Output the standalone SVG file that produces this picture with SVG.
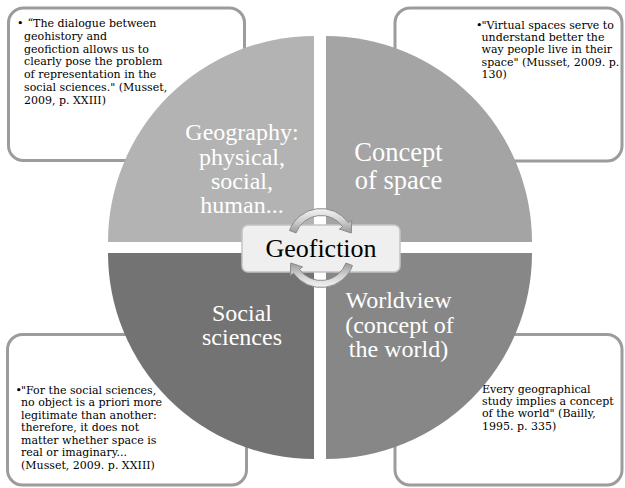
<svg xmlns="http://www.w3.org/2000/svg" width="625" height="488" viewBox="0 0 625 488">
<style>
.box{fill:#ffffff;stroke:#9c9c9c;stroke-width:3}
.bt{font-family:"DejaVu Serif","Liberation Serif",serif;font-size:11px;fill:#000}
.ql{font-family:"Liberation Serif","Times New Roman",serif;fill:#ffffff;text-anchor:middle}
.arr{stroke:#8a8a8a;stroke-width:1}
</style>
<defs>
<linearGradient id="gTop" x1="0" y1="0" x2="0" y2="1">
<stop offset="0" stop-color="#f4f4f4"/>
<stop offset="0.5" stop-color="#d0d0d0"/>
<stop offset="1" stop-color="#9a9a9a"/>
</linearGradient>
<linearGradient id="gBot" x1="0" y1="1" x2="0" y2="0">
<stop offset="0" stop-color="#f4f4f4"/>
<stop offset="0.5" stop-color="#d0d0d0"/>
<stop offset="1" stop-color="#9a9a9a"/>
</linearGradient>
</defs>

<g id="box-tl">
<rect class="box" x="8.5" y="8" width="236" height="152.5" rx="15"/>
<text class="bt"><tspan x="17" y="27.3">•</tspan><tspan x="24" y="27.3"> “The dialogue between</tspan><tspan x="24" y="40">geohistory and</tspan><tspan x="24" y="52.7">geofiction allows us to</tspan><tspan x="24" y="65.4">clearly pose the problem</tspan><tspan x="24" y="78.1">of representation in the</tspan><tspan x="24" y="90.8">social sciences." (Musset,</tspan><tspan x="24" y="103.5">2009, p. XXIII)</tspan></text>
</g>

<g id="box-tr">
<rect class="box" x="395" y="8" width="227" height="153" rx="15"/>
<text class="bt"><tspan x="476" y="28.5">•</tspan><tspan x="481.5" y="28.5">"Virtual spaces serve to</tspan><tspan x="481.5" y="40.9">understand better the</tspan><tspan x="481.5" y="53.3">way people live in their</tspan><tspan x="481.5" y="65.7">space" (Musset, 2009. p.</tspan><tspan x="481.5" y="78.1">130)</tspan></text>
</g>

<g id="box-bl">
<rect class="box" x="7.5" y="334.5" width="239" height="150.5" rx="15"/>
<text class="bt"><tspan x="15.5" y="394">•</tspan><tspan x="21" y="394">"For the social sciences,</tspan><tspan x="21" y="406.4">no object is a priori more</tspan><tspan x="21" y="418.8">legitimate than another:</tspan><tspan x="21" y="431.2">therefore, it does not</tspan><tspan x="21" y="443.6">matter whether space is</tspan><tspan x="21" y="456">real or imaginary...</tspan><tspan x="21" y="468.5">(Musset, 2009. p. XXIII)</tspan></text>
</g>

<g id="box-br">
<rect class="box" x="395" y="334.5" width="227" height="150.5" rx="15"/>
<text class="bt"><tspan x="482" y="392.7"> Every geographical</tspan><tspan x="482" y="405">study implies a concept</tspan><tspan x="482" y="417.3">of the world" (Bailly,</tspan><tspan x="482" y="429.7">1995. p. 335)</tspan></text>
</g>

<g id="q-geography">
<path d="M314 242 L108 242 A206 206 0 0 1 314 36 Z" fill="#b3b3b3"/>
<text class="ql" font-size="24"><tspan x="242" y="140">Geography:</tspan><tspan x="242" y="164.5">physical,</tspan><tspan x="242" y="189">social,</tspan><tspan x="242" y="213">human...</tspan></text>
</g>

<g id="q-space">
<path d="M326 242 L326 36 A206 206 0 0 1 532 242 Z" fill="#a4a4a4"/>
<text class="ql" font-size="26.5"><tspan x="398.5" y="161">Concept</tspan><tspan x="398.5" y="189">of space</tspan></text>
</g>

<g id="q-social">
<path d="M314 253 L314 459 A206 206 0 0 1 108 253 Z" fill="#737373"/>
<text class="ql" font-size="24"><tspan x="242" y="321">Social</tspan><tspan x="242" y="345">sciences</tspan></text>
</g>

<g id="q-worldview">
<path d="M326 253 L532 253 A206 206 0 0 1 326 459 Z" fill="#878787"/>
<text class="ql" font-size="24"><tspan x="398.5" y="308">Worldview</tspan><tspan x="399.5" y="332.5">(concept of</tspan><tspan x="398.5" y="357">the world)</tspan></text>
</g>

<g id="center-geofiction">
<rect x="242" y="225" width="158" height="47" rx="6" fill="#efefef" stroke="#c4c4c4" stroke-width="1.5"/>
<text x="321" y="257" text-anchor="middle" font-family="Liberation Serif,'Times New Roman',serif" font-size="26" fill="#000">Geofiction</text>
</g>

<g id="connectors">
<path class="arr" fill="url(#gTop)" d="M289.5 230.5 A33.5 33.5 0 0 1 348.4 222.8 L351.7 220.5 L351.3 233 L339.4 229.1 L342.7 226.8 A26.5 26.5 0 0 0 296.1 232.9 Z"/>
<path class="arr" fill="url(#gBot)" d="M352.5 265.5 A33.5 33.5 0 0 1 293.6 273.2 L290.3 275.5 L290.7 263 L302.6 266.9 L299.3 269.2 A26.5 26.5 0 0 0 345.9 263.1 Z"/>
</g>
</svg>
